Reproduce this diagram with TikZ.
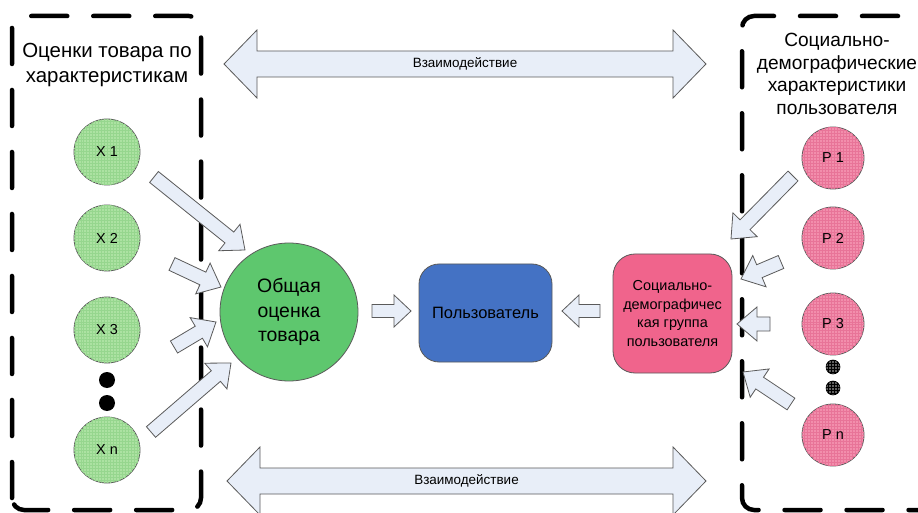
\documentclass[tikz,border=0pt]{standalone}
\usepackage{fontspec}
\setmainfont{Liberation Sans}
\usetikzlibrary{calc,patterns}
\definecolor{arrfill}{RGB}{232,238,248}
\definecolor{arrline}{RGB}{90,90,90}
\definecolor{xfill}{RGB}{172,226,162}
\definecolor{xgrid}{RGB}{150,214,142}
\definecolor{pfill}{RGB}{242,142,172}
\definecolor{pgrid}{RGB}{232,116,152}
\definecolor{dotfill}{RGB}{95,95,95}
\definecolor{totfill}{RGB}{94,199,110}
\definecolor{userfill}{RGB}{68,114,196}
\definecolor{grpfill}{RGB}{240,100,140}
\tikzset{
  blockarrow/.style={draw=arrline, fill=arrfill, line width=0.8bp, line join=miter},
  dashbox/.style={line width=4.5bp, dash pattern=on 36bp off 26bp, line cap=round, rounded corners=12bp},
  xcirc/.style={circle, draw=arrline, line width=0.8bp, fill=xfill, minimum size=66bp, inner sep=0pt,
     postaction={pattern=grid, pattern color=xgrid}, font=\fontsize{14.5}{16}\selectfont},
  pcirc/.style={circle, draw=arrline, line width=0.8bp, fill=pfill, minimum size=62bp, inner sep=0pt,
     postaction={pattern=grid, pattern color=pgrid}, font=\fontsize{14.5}{16}\selectfont},
  bdot/.style={circle, fill=black, minimum size=16bp, inner sep=0pt},
  gdot/.style={circle, draw=black, line width=0.6bp, fill=dotfill, minimum size=14bp, inner sep=0pt,
     postaction={pattern=grid, pattern color=black}},
  title/.style={align=center, inner sep=0pt},
  wlabel/.style={inner sep=0pt, font=\fontsize{13.5}{15}\selectfont},
}
\newcommand\blockarr[5]{%
  \coordinate (ba-h) at ($(#2)!#5!(#1)$);
  \draw[blockarrow] ($(#1)!#3!90:(#2)$) -- ($(ba-h)!#3!90:(#2)$) -- ($(ba-h)!#4!90:(#2)$) -- (#2)
    -- ($(ba-h)!#4!-90:(#2)$) -- ($(ba-h)!#3!-90:(#2)$) -- ($(#1)!#3!-90:(#2)$) -- cycle;}
\newcommand\dblarr[5]{%
  \coordinate (da-a) at ($(#1)!#5!(#2)$);
  \coordinate (da-b) at ($(#2)!#5!(#1)$);
  \draw[blockarrow] (#1) -- ($(da-a)!#4!90:(#2)$) -- ($(da-a)!#3!90:(#2)$) -- ($(da-b)!#3!-90:(#1)$)
    -- ($(da-b)!#4!-90:(#1)$) -- (#2) -- ($(da-b)!#4!90:(#1)$) -- ($(da-b)!#3!90:(#1)$)
    -- ($(da-a)!#3!-90:(#2)$) -- ($(da-a)!#4!-90:(#2)$) -- cycle;}
\begin{document}
\begin{tikzpicture}[x=1bp,y=-1bp]
\useasboundingbox (0,0) rectangle (918,513);
\fill[white] (0,0) rectangle (918,513);
% dashed groups
\draw[dashbox] (12,510) -- (12,16) -- (201,16) -- (201,510) -- cycle;
\draw[dashbox] (960,16) -- (742,16) -- (742,510) -- (960,510);
% titles
\node[title, font=\fontsize{20.5}{25}\selectfont] (ltitle) at (107,65) {Оценки товара по\\характеристикам};
\node[title, font=\fontsize{19.2}{22.5}\selectfont] (rtitle) at (837,74) {Социально-\\демографические\\характеристики\\пользователя};
% interaction arrows
\coordinate (t1) at (224,64); \coordinate (t2) at (706,64);
\dblarr{t1}{t2}{13bp}{34bp}{33bp}
\node[wlabel] (wtop) at ($(t1)!0.5!(t2)$) {Взаимодействие};
\coordinate (b1) at (227,481); \coordinate (b2) at (706,481);
\dblarr{b1}{b2}{13bp}{34bp}{33bp}
\node[wlabel] (wbot) at ($(b1)!0.5!(b2)$) {Взаимодействие};
% X circles
\node[xcirc] (x1) at (107,152) {X 1};
\node[xcirc] (x2) at (107,238) {X 2};
\node[xcirc] (x3) at (107,330) {X 3};
\node[bdot] (xd1) at (107,380) {};
\node[bdot] (xd2) at (107,403) {};
\node[xcirc] (xn) at (107,450) {X n};
% total
\node[circle, draw=arrline, line width=0.8bp, fill=totfill, minimum size=138bp, inner sep=0pt, align=center,
  font=\fontsize{19.5}{24.5}\selectfont] (total) at (289,312) {Общая\\оценка\\товара};
% user
\node[draw=arrline, line width=0.8bp, fill=userfill, rounded corners=20bp, minimum width=133bp, minimum height=98bp,
  font=\fontsize{16.5}{18}\selectfont] (user) at (485.5,313) {Пользователь};
% group
\node[draw=arrline, line width=0.8bp, fill=grpfill, rounded corners=22bp, minimum width=119bp, minimum height=119bp,
  align=center, font=\fontsize{14.5}{18.5}\selectfont] (group) at (672.5,313.5) {Социально-\\демографичес\\кая группа\\пользователя};
% P circles
\node[pcirc] (p1) at (833,158) {P 1};
\node[pcirc] (p2) at (833,238) {P 2};
\node[pcirc] (p3) at (833,324) {P 3};
\node[gdot] (pd1) at (833,367) {};
\node[gdot] (pd2) at (833,388) {};
\node[pcirc] (pn) at (833,435) {P n};
% arrow end points
\coordinate (ax1s) at (154,177); \coordinate (ax1e) at (245,250);
\coordinate (ax2s) at (172,264); \coordinate (ax2e) at (221,287);
\coordinate (ax3s) at (174,347); \coordinate (ax3e) at (216,322);
\coordinate (axns) at (151,432); \coordinate (axne) at (231,363);
\coordinate (ap1s) at (793,176); \coordinate (ap1e) at (731,239);
\coordinate (ap2s) at (781,262); \coordinate (ap2e) at (741,279);
\coordinate (ap3s) at (770,324); \coordinate (ap3e) at (737,324);
\coordinate (apns) at (791,404); \coordinate (apne) at (743,372);
\coordinate (ats) at (372,311); \coordinate (ate) at (411,311);
\coordinate (ags) at (600,311); \coordinate (age) at (562,311);
\blockarr{ax1s}{ax1e}{7bp}{17bp}{20bp}
\blockarr{ax2s}{ax2e}{7bp}{17bp}{20bp}
\blockarr{ax3s}{ax3e}{7bp}{17bp}{20bp}
\blockarr{axns}{axne}{7bp}{17bp}{20bp}
\blockarr{ap1s}{ap1e}{7bp}{17bp}{20bp}
\blockarr{ap2s}{ap2e}{7bp}{17bp}{20bp}
\blockarr{ap3s}{ap3e}{7bp}{17bp}{20bp}
\blockarr{apns}{apne}{7bp}{17bp}{20bp}
\blockarr{ats}{ate}{6.5bp}{16bp}{17bp}
\blockarr{ags}{age}{6.5bp}{16bp}{17bp}
\end{tikzpicture}
\end{document}
